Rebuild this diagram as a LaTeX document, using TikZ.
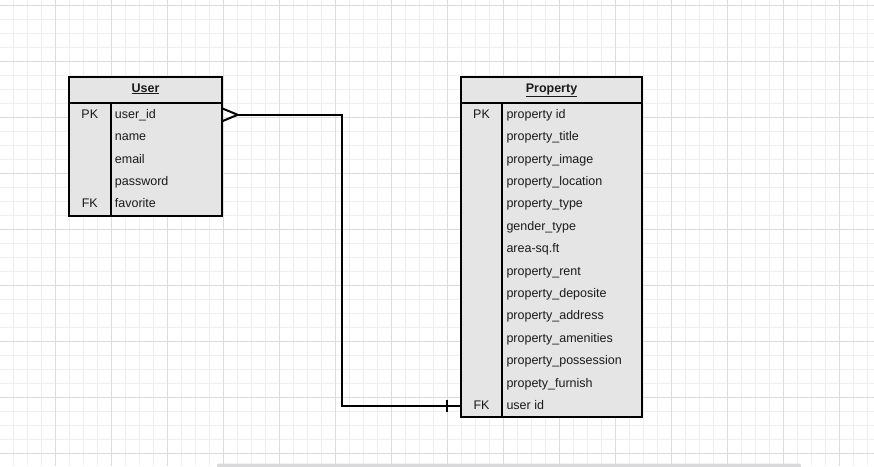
\documentclass[tikz,border=0pt]{standalone}
\usepackage{fontspec}
\setmainfont{Liberation Sans}
\definecolor{tblfill}{HTML}{E5E5E5}
\definecolor{minorc}{HTML}{EFEFEF}
\definecolor{majorc}{HTML}{DCDCDC}
\definecolor{barc}{HTML}{D9D9DC}
\definecolor{txt}{HTML}{1A1A1A}
\newcommand{\fs}{\fontsize{12.5}{15}\selectfont}
\begin{document}
\begin{tikzpicture}[x=1pt,y=-1pt,
  tbl/.style={draw=black, line width=2pt, fill=tblfill, inner sep=0pt, outer sep=0pt, anchor=north west},
  cell/.style={anchor=base west, inner sep=0pt, font=\fs, text=txt},
  keyc/.style={anchor=base, inner sep=0pt, font=\fs, text=txt},
  hdr/.style={anchor=base, inner sep=0pt, font=\fs\bfseries, text=txt},
  conn/.style={line width=2pt, draw=black},
  sep/.style={line width=2pt, draw=black}]
\useasboundingbox (0,0) rectangle (874,466);
\fill[white] (0,0) rectangle (874,466);
% grid
\foreach \i in {0,...,63} \draw[minorc, line width=1pt] ({-0.7+14*\i},0) -- ++(0,466);
\foreach \j in {0,...,33} \draw[minorc, line width=1pt] (0,{5.3+14*\j}) -- ++(874,0);
\foreach \i in {0,...,15} \draw[majorc, line width=1pt] ({55.3+56*\i},0) -- ++(0,466);
\foreach \j in {0,...,8} \draw[majorc, line width=1pt] (0,{5.3+56*\j}) -- ++(874,0);
% bottom bar
\fill[barc, rounded corners=2pt] (217,463.5) rectangle (801,470);
% User table
\node[tbl, minimum width=153pt, minimum height=138.5pt] (user) at (69,77) {};
\draw[sep] (69,103.3) -- (222,103.3);
\draw[sep] (110.7,103.3) -- (110.7,215.5);
\node[hdr] (uhead) at (145.5,92) {\underline{User}};
\node[keyc] (upk) at (89.8,118.3) {PK};
\node[keyc] (ufk) at (89.8,{118.3+4*22.4}) {FK};
\foreach \t [count=\k from 0] in {user\_id,name,email,password,favorite}
  \node[cell] (uf\k) at (114.7,{118.3+\k*22.4}) {\t};
% Property table
\node[tbl, minimum width=181.5pt, minimum height=340.2pt] (prop) at (460.7,77) {};
\draw[sep] (460.7,103.3) -- (642.2,103.3);
\draw[sep] (502.3,103.3) -- (502.3,417.2);
\node[hdr] (phead) at (551.5,92) {\underline{Property}};
\node[keyc] (ppk) at (481.5,118.3) {PK};
\node[keyc] (pfk) at (481.5,{118.3+13*22.4}) {FK};
\foreach \t [count=\k from 0] in {property id,property\_title,property\_image,property\_location,property\_type,gender\_type,area-sq.ft,property\_rent,property\_deposite,property\_address,property\_amenities,property\_possession,propety\_furnish,user id}
  \node[cell] (pf\k) at (506.3,{118.3+\k*22.4}) {\t};
% connector
\coordinate (ue) at (222,114.8);
\coordinate (cft) at (237.7,114.8);
\coordinate (bend) at (342.3,114.8);
\coordinate (pe) at (460.7,405.7);
\draw[conn] (cft) -- (bend) |- (pe);
\draw[conn] (222,108.3) -- (cft) -- (222,121.3);
\draw[conn] (446.7,399.5) -- (446.7,412);
\end{tikzpicture}
\end{document}
